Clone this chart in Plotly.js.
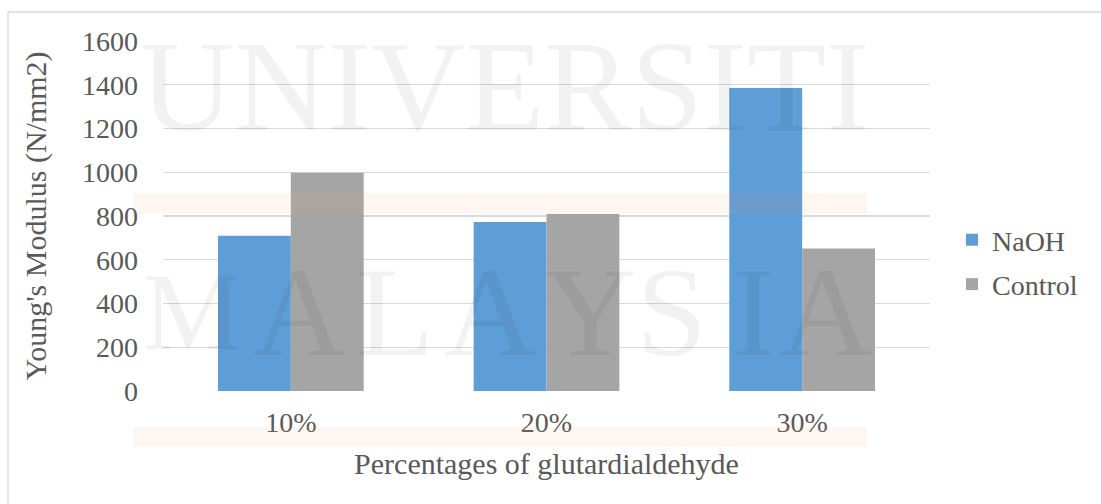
<!DOCTYPE html>
<html>
<head>
<meta charset="utf-8">
<script src="https://cdn.plot.ly/plotly-3.0.1.min.js"></script>
<style>
  html, body { margin: 0; padding: 0; background: #ffffff; }
  #chart { width: 1101px; height: 504px; }
</style>
</head>
<body>
<div id="chart"></div>
<script>
// Young's modulus by glutardialdehyde percentage
const categories = ['10%', '20%', '30%'];
const naohValues = [710, 773, 1385];
const controlValues = [998, 809, 652];
const seriesNames = ['NaOH', 'Control'];
const yTicks = [0, 200, 400, 600, 800, 1000, 1200, 1400, 1600];

const FONT = 'Liberation Serif, "Times New Roman", Times, serif';
const TEXT = '#595959';

// plot area in page pixels, used to place the decorative overlays
const L = 163, T = 41, W = 767, H = 350;
const fx = x => (x - L) / W;
const fy = y => (T + H - y) / H;

const traces = [
  { type: 'bar', name: seriesNames[0], x: categories, y: naohValues,
    legendgroup: 'a', marker: { color: '#5E9DD6' }, hoverinfo: 'x+y+name' },
  { type: 'bar', name: seriesNames[1], x: categories, y: controlValues,
    legendgroup: 'b', marker: { color: '#A5A5A5' }, hoverinfo: 'x+y+name' }
];

// faint institutional watermark drawn over the chart
const wm = 'rgba(0,0,0,0.05)';
const annotations = [
  { text: 'UNIVERSITI', x: fx(504), y: fy(86), xref: 'paper', yref: 'paper',
    xanchor: 'center', yanchor: 'middle', showarrow: false,
    font: { family: FONT, size: 130, color: wm } }
];
const mLetters = ['M', 'A', 'L', 'A', 'Y', 'S', 'I', 'A'];
const mCenters = [192, 299, 395, 490, 590, 671, 753, 826];
const mSizes = [110, 128, 128, 128, 128, 128, 128, 128];
mLetters.forEach((ch, i) => annotations.push({
  text: ch, x: fx(mCenters[i]), y: fy(312), xref: 'paper', yref: 'paper',
  xanchor: 'center', yanchor: 'middle', showarrow: false,
  font: { family: FONT, size: mSizes[i], color: wm }
}));

const band = (y0, y1) => ({
  type: 'rect', xref: 'paper', yref: 'paper', layer: 'above',
  x0: fx(133), x1: fx(867), y0: fy(y1), y1: fy(y0),
  fillcolor: 'rgba(240,160,100,0.09)', line: { width: 0 }
});

const layout = {
  width: 1101, height: 504,
  margin: { l: L, r: 1101 - L - W, t: T, b: 504 - T - H, pad: 0 },
  paper_bgcolor: '#ffffff', plot_bgcolor: '#ffffff',
  font: { family: FONT, color: TEXT, size: 28 },
  barmode: 'group', bargap: 0.43, bargroupgap: 0,
  showlegend: true,
  legend: { x: fx(952), y: fy(262), xanchor: 'left', yanchor: 'middle',
            font: { family: FONT, size: 28, color: TEXT },
            bgcolor: 'rgba(0,0,0,0)', traceorder: 'grouped', tracegroupgap: 5 },
  xaxis: {
    type: 'category', automargin: false,
    showgrid: false, zeroline: false,
    showline: false, ticks: '', ticklabelstandoff: 12,
    tickfont: { family: FONT, size: 28, color: TEXT },
    title: { text: 'Percentages of glutardialdehyde', standoff: 15,
             font: { family: FONT, size: 30, color: TEXT } }
  },
  yaxis: {
    range: [0, 1600], tickvals: yTicks, automargin: false,
    showgrid: true, gridcolor: '#d9d9d9', gridwidth: 1.3,
    zeroline: false, showline: false, ticks: '', ticklabelstandoff: 24,
    tickfont: { family: FONT, size: 28, color: TEXT },
    title: { text: "Young's Modulus (N/mm2)", standoff: 26,
             font: { family: FONT, size: 30, color: TEXT } }
  },
  shapes: [
    { type: 'rect', xref: 'paper', yref: 'paper', layer: 'below',
      x0: fx(8), x1: fx(1120), y0: fy(530), y1: fy(12),
      line: { color: '#d9d9d9', width: 1.3 }, fillcolor: 'rgba(0,0,0,0)' },
    band(193, 214),
    band(427, 447)
  ],
  annotations: annotations
};

Plotly.newPlot('chart', traces, layout, { displayModeBar: false, staticPlot: true });
</script>
</body>
</html>
